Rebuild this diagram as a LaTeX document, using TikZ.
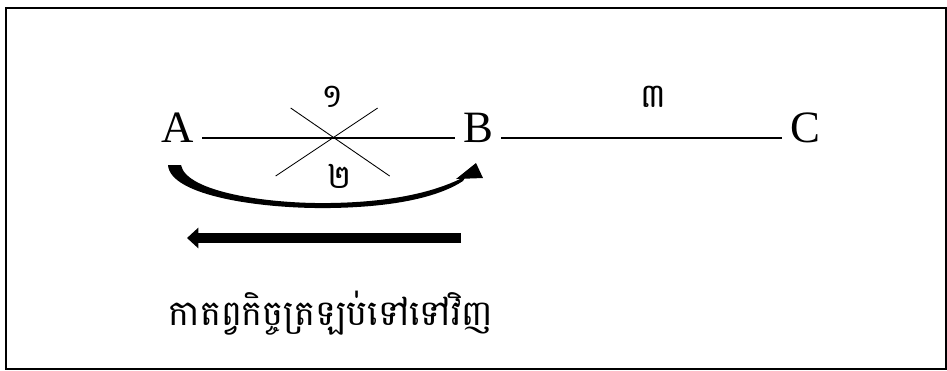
\documentclass[tikz,border=0pt]{standalone}
\usepackage{fontspec}
\setmainfont{Liberation Serif}
\newfontfamily\khmerfont[Script=Khmer]{Battambang}
\usetikzlibrary{arrows.meta,calc}
\tikzset{
  pt/.style    ={font=\fontsize{25.5}{28}\selectfont,inner xsep=4.5pt,anchor=mid},
  num/.style   ={font=\khmerfont\fontsize{19}{21}\selectfont,inner sep=1pt},
  edge/.style  ={line width=0.6pt},
  cut/.style   ={line width=0.5pt},
  back/.style  ={line width=6.2pt,-{Triangle[length=6.5pt,width=11.5pt]}},
  caption/.style={font=\khmerfont\fontsize{20}{22}\selectfont,inner sep=0pt},
}

\begin{document}
\begin{tikzpicture}[x=0.02cm,y=-0.02cm]
  \useasboundingbox (0,0) rectangle (947,370);
  \draw[line width=0.6pt] (6,8) rectangle (946,369);

  % points on the line
  \node[pt] (A) at (178,138) {A};
  \node[pt] (B) at (478,138) {B};
  \node[pt] (C) at (805,138) {C};
  \draw[edge] (A.mid east) -- (B.mid west);
  \draw[edge] (B.mid east) -- (C.mid west);

  % the crossed-out piece
  \coordinate (X) at ($(A.mid east)!0.52!(B.mid west)$);
  \draw[cut] ($(X)+(-43,-30)$) -- ($(X)+(56,38)$);
  \draw[cut] ($(X)+(44,-30)$) -- ($(X)+(-58,38)$);
  \node[num] (n1) at (333,97) {១};
  \node[num] (n2) at (340,176) {២};
  \node[num] (n3) at (653,97) {៣};

  % curved arrow A to B, tapering
  \fill (168,165) .. controls (170,196) and (262,209) .. (330,208)
        .. controls (398,207) and (440,196) .. (463,181)
        -- (466,176)
        .. controls (440,190) and (398,202) .. (330,203)
        .. controls (268,204) and (186,192) .. (181,165) -- cycle;
  \fill (456,179) -- (476,163) -- (483,178) -- cycle;

  % arrow back
  \coordinate (r) at (461,238);
  \coordinate (l) at (187,238);
  \draw[back] (r) -- (l);

  \node[caption] (cap) at (331,313) {កាតព្វកិច្ចត្រឡប់ទៅទៅវិញ};
\end{tikzpicture}
\end{document}
